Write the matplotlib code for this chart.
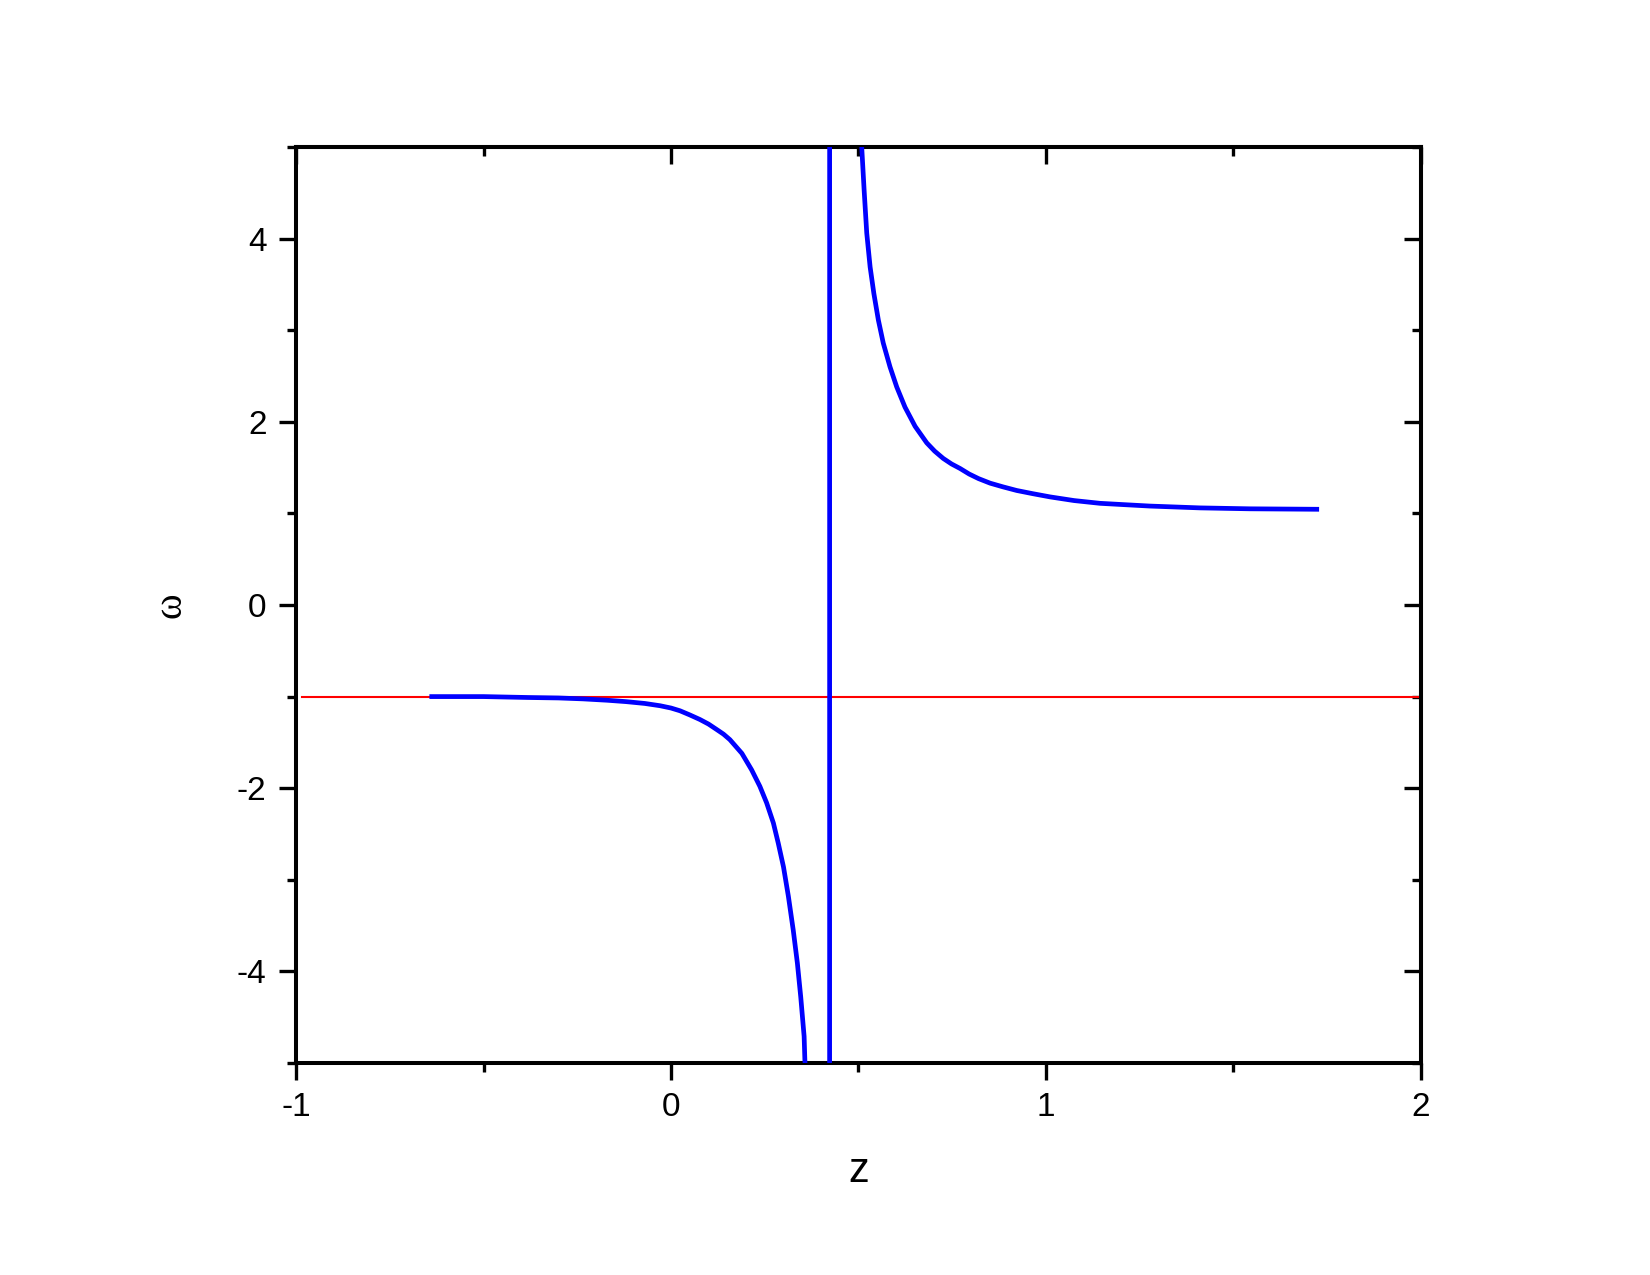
import matplotlib
matplotlib.use("Agg")
import matplotlib.pyplot as plt
from matplotlib.ticker import MultipleLocator

plt.rcParams["axes.unicode_minus"] = False

# left branch (values below -5 are off the axes and get clipped)
z_left = [-0.638, -0.50, -0.381, -0.30, -0.235, -0.17, -0.12, -0.07, -0.029,
          0.0, 0.024, 0.05, 0.077, 0.10, 0.122, 0.14, 0.157, 0.189, 0.215,
          0.237, 0.255, 0.273, 0.286, 0.300, 0.313, 0.326, 0.337, 0.346,
          0.355, 0.357, 0.365, 0.38, 0.40, 0.415, 0.4215]
w_left = [-1.00, -1.00, -1.01, -1.015, -1.025, -1.04, -1.055, -1.075, -1.10,
          -1.125, -1.155, -1.20, -1.25, -1.30, -1.36, -1.41, -1.47, -1.62, -1.80,
          -1.98, -2.16, -2.38, -2.60, -2.86, -3.18, -3.55, -3.91, -4.28,
          -4.71, -4.97, -5.5, -7.0, -11.0, -40.0, -300.0]

# right branch, starts far above the top of the axes
z_right = [0.4245, 0.43, 0.45, 0.47, 0.49, 0.50, 0.509, 0.515, 0.522, 0.531,
           0.541, 0.553, 0.566, 0.584, 0.602, 0.624, 0.651, 0.682, 0.703,
           0.726, 0.748, 0.771, 0.795, 0.820, 0.851, 0.885, 0.922, 0.965,
           1.011, 1.075, 1.144, 1.21, 1.277, 1.411, 1.544, 1.722]
w_right = [300.0, 60.0, 20.0, 10.0, 6.6, 5.7, 4.97, 4.53, 4.06, 3.69,
           3.40, 3.11, 2.86, 2.60, 2.38, 2.16, 1.95, 1.77, 1.68,
           1.60, 1.54, 1.49, 1.43, 1.38, 1.33, 1.29, 1.25, 1.215,
           1.18, 1.14, 1.11, 1.095, 1.08, 1.06, 1.05, 1.045]

z_ref = [-0.983, 2.0]
w_ref = [-1.0, -1.0]

fig = plt.figure(figsize=(16.5, 12.75), dpi=100)
ax = fig.add_axes([0.1794, 0.1663, 0.6818, 0.7184])

ax.plot(z_ref, w_ref, color="red", lw=1.5, zorder=2)
ax.plot(z_left + z_right, w_left + w_right, color="blue", lw=3.4, zorder=3,
        solid_joinstyle="round")

ax.set_xlim(-1, 2)
ax.set_ylim(-5, 5)
ax.xaxis.set_major_locator(MultipleLocator(1))
ax.xaxis.set_minor_locator(MultipleLocator(0.5))
ax.yaxis.set_major_locator(MultipleLocator(2))
ax.yaxis.set_minor_locator(MultipleLocator(1))

for spine in ax.spines.values():
    spine.set_linewidth(2.9)

ax.tick_params(which="both", direction="out", width=2.4,
               labelsize=24, labelfontfamily="Liberation Sans", pad=9)
ax.tick_params(which="major", length=12.2)
ax.tick_params(which="minor", length=6.5)

# inward ticks on top and right, no labels
sec_x = ax.secondary_xaxis("top")
sec_x.xaxis.set_major_locator(MultipleLocator(1))
sec_x.xaxis.set_minor_locator(MultipleLocator(0.5))
sec_x.tick_params(which="both", direction="in", width=2.4, labeltop=False)
sec_x.tick_params(which="major", length=12.2)
sec_x.tick_params(which="minor", length=6.5)
sec_x.spines["top"].set_linewidth(2.9)

sec_y = ax.secondary_yaxis("right")
sec_y.yaxis.set_major_locator(MultipleLocator(2))
sec_y.yaxis.set_minor_locator(MultipleLocator(1))
sec_y.tick_params(which="both", direction="in", width=2.4, labelright=False)
sec_y.tick_params(which="major", length=12.2)
sec_y.tick_params(which="minor", length=6.5)
sec_y.spines["right"].set_linewidth(2.9)

ax.set_xlabel("z", fontsize=30, family="Liberation Sans", labelpad=20)
ax.set_ylabel("ω", fontsize=28, family="Liberation Serif", labelpad=34)

fig.savefig("out.png", dpi=100, facecolor="white")
